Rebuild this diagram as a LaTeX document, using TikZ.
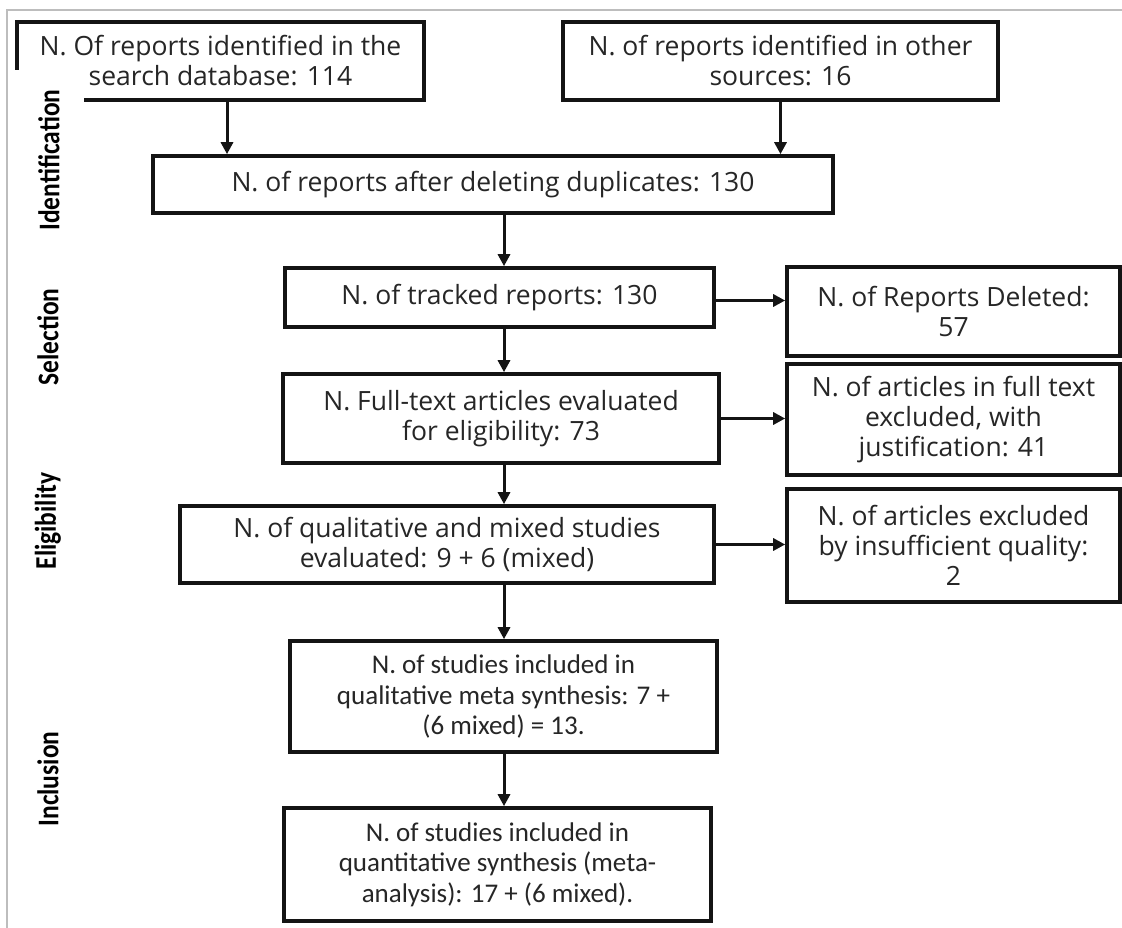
\documentclass[tikz,border=0pt]{standalone}
\usepackage{fontspec}
\setmainfont{Open Sans}
\newfontfamily\calib{Carlito}
\usetikzlibrary{arrows.meta,calc}
\definecolor{txt}{HTML}{262626}
\definecolor{framegray}{HTML}{BDBDBD}
\begin{document}
\begin{tikzpicture}[x=1pt,y=-1pt,
  box/.style={draw=black!92, line width=3.6pt, fill=white, inner sep=0pt, align=center,
    text=txt, font=\fontsize{26.5}{30}\selectfont},
  cbox/.style={box, font=\calib\fontsize{27}{30.5}\selectfont},
  arr/.style={draw=black!92, line width=3pt, -{Triangle[length=12pt,width=12pt]}},
  phase/.style={rotate=90, fill=white, inner sep=0pt, text=black}]
\useasboundingbox (0,0) rectangle (1122,928);
\fill[white] (0,0) rectangle (1122,928);
\draw[framegray, line width=1.2pt] (7,928) -- (7,10) -- (1122,10);

% boxes
\node[box, minimum width=407pt, minimum height=78pt] (b1) at (220.5,61) {N. Of reports identified in the\\search database: 114};
\node[box, minimum width=435pt, minimum height=78pt] (b2) at (780.5,61) {N. of reports identified in other\\sources: 16};
\node[box, minimum width=680pt, minimum height=57pt] (b3) at (493,184.5) {N. of reports after deleting duplicates: 130};
\node[box, minimum width=429pt, minimum height=59pt] (b4) at (499.5,297.5) {N. of tracked reports: 130};
\node[box, minimum width=333pt, minimum height=89pt] (b5) at (953.5,311.5) {N. of Reports Deleted:\\57};
\node[box, minimum width=436pt, minimum height=89pt] (b6) at (501,418.5) {N. Full-text articles evaluated\\for eligibility: 73};
\node[box, minimum width=333pt, minimum height=111pt] (b7) at (953.5,419.5) {N. of articles in full text\\excluded, with\\justification: 41};
\node[box, minimum width=534pt, minimum height=77pt] (b8) at (447,544.5) {N. of qualitative and mixed studies\\evaluated: 9 + 6 (mixed)};
\node[box, minimum width=333pt, minimum height=113pt] (b9) at (953.5,545.5) {N. of articles excluded\\by insufficient quality:\\2};
\node[cbox, minimum width=427pt, minimum height=111pt] (b10) at (503.5,696.5) {N. of studies included in\\qualitative meta synthesis: 7 +\\(6 mixed) = 13.};
\node[cbox, minimum width=427pt, minimum height=113pt] (b11) at (497.5,864.5) {N. of studies included in\\quantitative synthesis (meta-\\analysis): 17 + (6 mixed).};

% phase labels (white background hides part of the first box, as in the original)
\newcommand{\phasefont}[1]{\scalebox{0.85}[1]{\calib\bfseries\fontsize{30}{30}\selectfont #1}}
\node[phase, minimum width=180pt, minimum height=70pt] (pid) at (49,160) {\phasefont{Identification}};
\node[phase] (psel) at (48,337) {\phasefont{Selection}};
\node[phase] (pel) at (48,521) {\phasefont{Eligibility}};
\node[phase] (pinc) at (48,779) {\phasefont{Inclusion}};

% connectors
\coordinate (a1) at (227,0);
\coordinate (sp) at (504,0);
\draw[arr] (b1.south -| a1) -- (b3.north -| a1);
\draw[arr] (b2.south) -- (b3.north -| b2.south);
\draw[arr] (b3.south -| sp) -- (b4.north -| sp);
\draw[arr] (b4.south -| sp) -- (b6.north -| sp);
\draw[arr] (b6.south -| sp) -- (b8.north -| sp);
\draw[arr] (b8.south -| sp) -- (b10.north -| sp);
\draw[arr] (b10.south -| sp) -- (b11.north -| sp);
\draw[arr] ($(b4.east)+(0,3)$) -- ($(b4.east -| b5.west)+(0,3)$);
\draw[arr] (b6.east) -- (b6.east -| b7.west);
\draw[arr] (b8.east) -- (b8.east -| b9.west);
\end{tikzpicture}
\end{document}
